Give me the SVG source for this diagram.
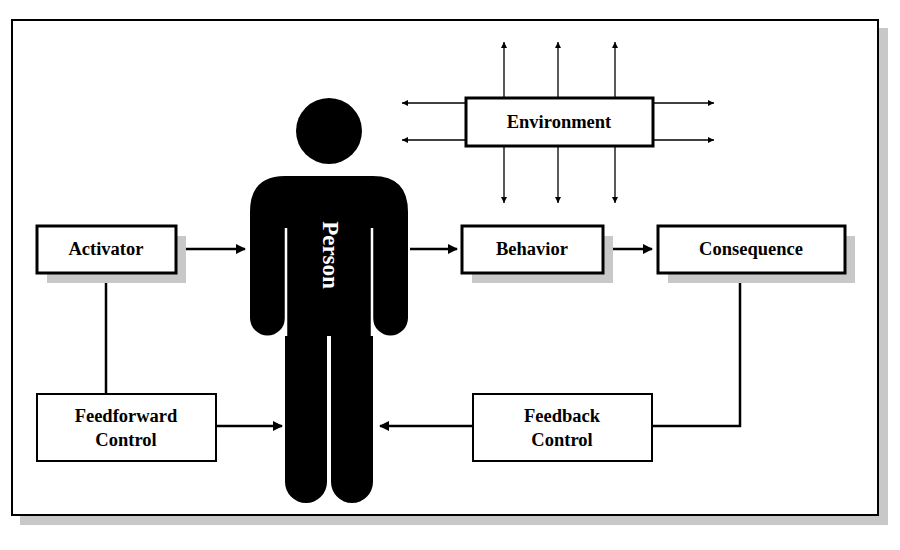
<svg xmlns="http://www.w3.org/2000/svg" width="900" height="550" viewBox="0 0 900 550">
<defs>
<marker id="big" markerWidth="10" markerHeight="10" refX="9" refY="5" orient="auto" markerUnits="userSpaceOnUse" viewBox="0 0 10 10"><path d="M0,0 L10,5 L0,10 z" fill="#000"/></marker>
<marker id="sm" markerWidth="6" markerHeight="6" refX="6" refY="3" orient="auto" markerUnits="userSpaceOnUse" viewBox="0 0 6 6"><path d="M0,0 L6,3 L0,6 z" fill="#000"/></marker>
<style>
.box{fill:#fff;stroke:#000;stroke-width:3}
.sh{fill:#c8c8c8}
.t{font-family:"Liberation Serif",serif;font-weight:bold;font-size:18.5px;text-anchor:middle;fill:#000}
.c{stroke:#000;stroke-width:2.5;fill:none}
.e{stroke:#000;stroke-width:1.3;fill:none;marker-end:url(#sm)}
</style>
</defs>
<rect x="0" y="0" width="900" height="550" fill="#fff"/>
<rect x="20" y="28" width="868" height="497" fill="#c8c8c8"/>
<rect x="12" y="20" width="866" height="495" fill="#fff" stroke="#000" stroke-width="2"/>
<g id="connectors">
<path class="c" d="M176,249 H245" marker-end="url(#big)"/>
<path class="c" d="M410,249 H457" marker-end="url(#big)"/>
<path class="c" d="M603,249 H652" marker-end="url(#big)"/>
<path class="c" d="M106,273 V394"/>
<path class="c" d="M740,273 V426 H652"/>
<path class="c" d="M216,426 H282" marker-end="url(#big)"/>
<path class="c" d="M473,426 H380" marker-end="url(#big)"/>
<path class="e" d="M504,98 V42"/><path class="e" d="M558,98 V42"/><path class="e" d="M615,98 V42"/>
<path class="e" d="M504,146 V203"/><path class="e" d="M558,146 V203"/><path class="e" d="M615,146 V203"/>
<path class="e" d="M466,103 H402"/><path class="e" d="M466,140 H402"/>
<path class="e" d="M653,103 H714"/><path class="e" d="M653,140 H714"/>
</g>
<g id="person">
<circle cx="329" cy="131" r="33" fill="#000"/>
<path fill="#000" d="M285,176 H373 Q408,176 408,212 V318 A17.5,17.5 0 0 1 373,318 V482 A21,21 0 0 1 331,482 V336 H327 V482 A21,21 0 0 1 285,482 V318 A17.5,17.5 0 0 1 250,318 V212 Q250,176 285,176 Z"/>
<path d="M286,228 V336 M372,228 V336" stroke="#fff" stroke-width="2.5"/>
<text class="t" transform="translate(323,255) rotate(90)" style="fill:#fff;font-size:23px">Person</text>
</g>
<g id="environment"><rect class="box" x="466" y="98" width="187" height="48"/><text class="t" x="559" y="128">Environment</text></g>
<g id="activator"><rect class="sh" x="47" y="236" width="139" height="47"/><rect class="box" x="37" y="226" width="139" height="47"/><text class="t" x="106" y="255">Activator</text></g>
<g id="behavior"><rect class="sh" x="472" y="236" width="141" height="47"/><rect class="box" x="462" y="226" width="141" height="47"/><text class="t" x="532" y="255">Behavior</text></g>
<g id="consequence"><rect class="sh" x="668" y="236" width="187" height="47"/><rect class="box" x="658" y="226" width="187" height="47"/><text class="t" x="751" y="255">Consequence</text></g>
<g id="feedforward"><rect class="box" x="37" y="394" width="179" height="67" style="stroke-width:2"/><text class="t" x="126" y="422">Feedforward</text><text class="t" x="126" y="446">Control</text></g>
<g id="feedback"><rect class="box" x="473" y="394" width="179" height="67" style="stroke-width:2"/><text class="t" x="562" y="422">Feedback</text><text class="t" x="562" y="446">Control</text></g>
</svg>
